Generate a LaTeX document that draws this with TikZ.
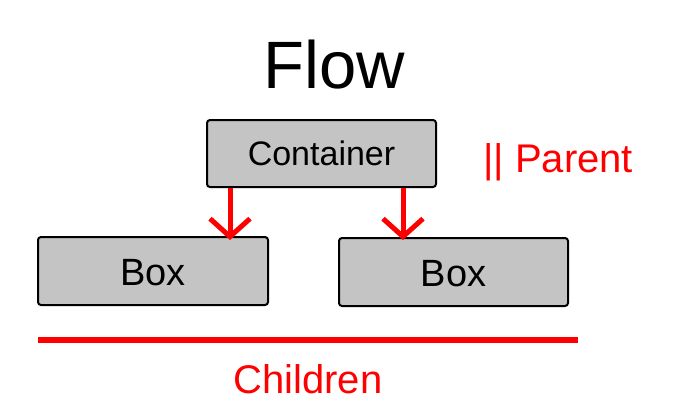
\documentclass[tikz,border=0pt]{standalone}
\usepackage{fontspec}
\setmainfont{Liberation Sans}
\usetikzlibrary{arrows.meta}
\definecolor{boxgray}{HTML}{C4C4C4}
\definecolor{myred}{HTML}{FF0000}
\tikzset{
  flowbox/.style={draw=black, line width=2pt, fill=boxgray, rounded corners=3pt, inner sep=0pt},
  redarrow/.style={draw=myred, line width=5pt, -{Straight Barb[length=18pt,width=40pt,line width=5pt]}},
  redtext/.style={text=myred, inner sep=0pt},
}
\begin{document}
\begin{tikzpicture}[x=1pt,y=-1pt]
\useasboundingbox (0,0) rectangle (680,405);
\node[inner sep=0pt, font=\fontsize{67}{70}\selectfont, anchor=base] (title) at (334,88) {Flow};
\node[flowbox, minimum width=229pt, minimum height=67pt] (cont) at (321.5,153.5) {};
\node[font=\fontsize{34}{36}\selectfont, anchor=base] (conttext) at (321.5,165) {Container};
\node[flowbox, minimum width=230pt, minimum height=68pt] (box1) at (153,271) {};
\node[font=\fontsize{38}{40}\selectfont, anchor=base] (b1text) at (153,285) {Box};
\node[flowbox, minimum width=229pt, minimum height=68pt] (box2) at (453.5,272) {};
\node[font=\fontsize{38}{40}\selectfont, anchor=base] (b2text) at (453.5,286) {Box};
\node[redtext, font=\fontsize{40}{42}\selectfont, anchor=base west] (parent) at (483,172) {|| Parent};
\coordinate (a1s) at (230,188);
\coordinate (a1e) at (230,240);
\coordinate (a2s) at (403,188);
\coordinate (a2e) at (403,240);
\draw[redarrow] (a1s) -- (a1e);
\draw[redarrow] (a2s) -- (a2e);
\coordinate (ll) at (38,340);
\coordinate (lr) at (578,340);
\draw[myred, line width=6pt] (ll) -- (lr);
\node[redtext, font=\fontsize{40}{42}\selectfont, anchor=base] (children) at (308,393) {Children};
\end{tikzpicture}
\end{document}
